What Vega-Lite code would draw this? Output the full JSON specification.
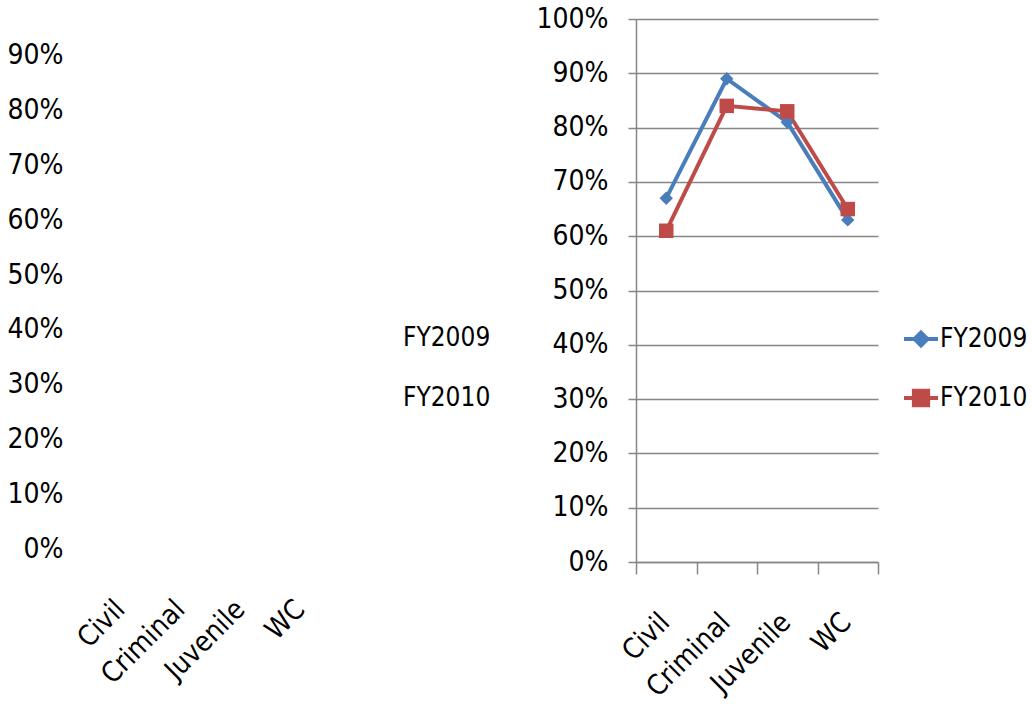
{
  "$schema": "https://vega.github.io/schema/vega-lite/v6.json",
  "padding": {"left": 7, "top": 5, "right": 5, "bottom": 5},
  "background": "white",
  "data": {"values": [
    {"Category": "Civil", "Year": "FY2009", "Value": 0.67},
    {"Category": "Criminal", "Year": "FY2009", "Value": 0.89},
    {"Category": "Juvenile", "Year": "FY2009", "Value": 0.81},
    {"Category": "WC", "Year": "FY2009", "Value": 0.63},
    {"Category": "Civil", "Year": "FY2010", "Value": 0.61},
    {"Category": "Criminal", "Year": "FY2010", "Value": 0.84},
    {"Category": "Juvenile", "Year": "FY2010", "Value": 0.83},
    {"Category": "WC", "Year": "FY2010", "Value": 0.65}
  ]},
  "config": {
    "view": {"stroke": null},
    "font": "DejaVu Sans Condensed, sans-serif",
    "axis": {"labelFont": "DejaVu Sans Condensed, sans-serif", "labelFontSize": 28, "labelColor": "#000000", "title": null},
    "legend": {"labelFont": "DejaVu Sans Condensed, sans-serif", "labelFontSize": 26, "labelColor": "#000000"}
  },
  "spacing": 44,
  "resolve": {"scale": {"color": "independent", "y": "independent", "x": "independent"}, "legend": {"color": "independent"}},
  "hconcat": [
    {
      "width": 240,
      "height": 543,
      "mark": {"type": "line", "opacity": 0},
      "encoding": {
        "x": {"field": "Category", "type": "nominal", "sort": ["Civil", "Criminal", "Juvenile", "WC"],
          "scale": {"type": "band", "paddingInner": 0, "paddingOuter": 0}, "bandPosition": 0.5,
          "axis": {"title": null, "domain": false, "ticks": false, "tickSize": 0, "grid": false, "labelAngle": -45, "labelAlign": "right", "labelBaseline": "top", "labelPadding": 33, "labelOffset": -11}},
        "y": {"field": "Value", "type": "quantitative", "scale": {"domain": [-0.0237, 0.9675], "nice": false, "zero": false},
          "axis": {"title": null, "values": [0, 0.1, 0.2, 0.3, 0.4, 0.5, 0.6, 0.7, 0.8, 0.9], "format": ".0%", "domain": false, "ticks": false, "tickSize": 0, "grid": false, "labelPadding": 29}},
        "color": {"field": "Year", "type": "nominal", "scale": {"range": ["#4A7EBB", "#BE4B48"]},
          "legend": {"title": null, "orient": "none", "legendX": 285, "legendY": 306, "symbolOpacity": 0, "symbolSize": 0, "symbolStrokeWidth": 0, "labelOffset": 0, "padding": 0, "rowPadding": 34}}
      }
    },
    {
      "width": 242,
      "height": 543,
      "encoding": {
        "x": {"field": "Category", "type": "nominal", "sort": ["Civil", "Criminal", "Juvenile", "WC"],
          "scale": {"type": "band", "paddingInner": 0, "paddingOuter": 0}, "bandPosition": 0.5,
          "axis": {"title": null, "domain": true, "domainColor": "#868686", "domainWidth": 1.5, "ticks": true, "tickBand": "extent", "tickColor": "#868686", "tickWidth": 1.5, "tickSize": 12, "grid": false, "labelAngle": -45, "labelAlign": "right", "labelBaseline": "top", "labelPadding": 34, "labelOffset": -11}},
        "y": {"field": "Value", "type": "quantitative", "scale": {"domain": [0, 1], "nice": false},
          "axis": {"title": null, "values": [0, 0.1, 0.2, 0.3, 0.4, 0.5, 0.6, 0.7, 0.8, 0.9, 1], "format": ".0%", "domainColor": "#868686", "domainWidth": 1.5, "tickColor": "#868686", "tickWidth": 1.5, "tickSize": 8, "grid": true, "gridColor": "#868686", "gridWidth": 1.5, "gridOpacity": 1, "labelPadding": 20}},
        "color": {"field": "Year", "type": "nominal", "scale": {"range": ["#4A7EBB", "#BE4B48"]},
          "legend": {"title": null, "orient": "none", "legendX": 266, "legendY": 301, "symbolSize": 1156, "labelOffset": 0, "padding": 0, "rowPadding": 25,
            "encode": {"symbols": {"update": {
              "shape": {"signal": "datum.value === 'FY2009' ? 'M-1,0H1M0,-0.38L0.38,0L0,0.38L-0.38,0Z' : 'M-1,0H1M-0.42,-0.42H0.42V0.42H-0.42Z'"},
              "fill": {"signal": "datum.value === 'FY2009' ? '#4A7EBB' : '#BE4B48'"},
              "stroke": {"signal": "datum.value === 'FY2009' ? '#4A7EBB' : '#BE4B48'"},
              "strokeWidth": {"value": 4},
              "opacity": {"value": 1}
            }}}}}
      },
      "layer": [
        {"mark": {"type": "line", "strokeWidth": 4}},
        {"mark": {"type": "point", "filled": true, "opacity": 1},
          "encoding": {
            "shape": {"field": "Year", "type": "nominal", "scale": {"range": ["diamond", "square"]}, "legend": null},
            "size": {"field": "Year", "type": "ordinal", "scale": {"range": [180, 210]}, "legend": null}
          }}
      ]
    }
  ]
}
